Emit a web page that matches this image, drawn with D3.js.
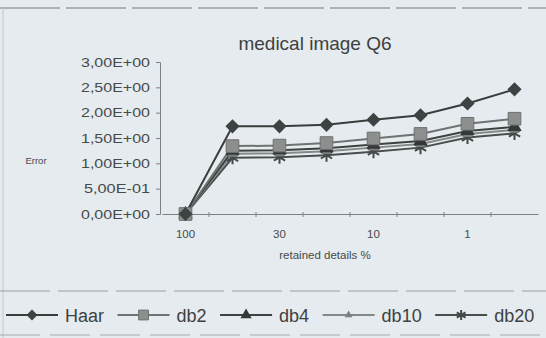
<!DOCTYPE html>
<html>
<head>
<meta charset="utf-8">
<script src="https://cdn.jsdelivr.net/npm/d3@7"></script>
<style>
  body { margin: 0; background: #e5ebee; }
  svg { display: block; font-family: "Liberation Sans", Arial, sans-serif; }
</style>
</head>
<body>
<svg id="chart" width="546" height="338"></svg>
<script>
// data
const xTickLabels = ["100", "", "30", "", "10", "", "1", ""];
const seriesNames = ["Haar", "db2", "db4", "db10", "db20"];
const haar = [0, 1.73, 1.73, 1.76, 1.86, 1.95, 2.18, 2.46];
const db2  = [0, 1.34, 1.35, 1.40, 1.49, 1.58, 1.78, 1.88];
const db4  = [0, 1.25, 1.26, 1.30, 1.37, 1.44, 1.64, 1.72];
const db10 = [0, 1.19, 1.20, 1.24, 1.31, 1.38, 1.58, 1.66];
const db20 = [0, 1.11, 1.12, 1.16, 1.23, 1.31, 1.51, 1.59];
const yTicks = [0, 0.5, 1, 1.5, 2, 2.5, 3];

const series = [
  { name: seriesNames[0], values: haar, line: "#3b3d3d", sym: "diamond",  fill: "#3f4242", size: 100 },
  { name: seriesNames[1], values: db2,  line: "#6f7272", sym: "square",   fill: "#8c8f8e", size: 160 },
  { name: seriesNames[2], values: db4,  line: "#3e4141", sym: "triangle", fill: "#353838", size: 90 },
  { name: seriesNames[3], values: db10, line: "#858888", sym: "triangle", fill: "#7d8080", size: 45 },
  { name: seriesNames[4], values: db20, line: "#4a4d4d", sym: "star",     fill: "#454848", size: 120 }
];

const svg = d3.select("#chart");
const txt = "#474a4a";

// scan frame lines
svg.append("line").attr("x1", 0).attr("x2", 546).attr("y1", 8).attr("y2", 8)
  .attr("stroke", "#9aa0a2").attr("stroke-width", 1.5).attr("stroke-dasharray", "60 6");
svg.append("line").attr("x1", 3).attr("x2", 3).attr("y1", 8).attr("y2", 338)
  .attr("stroke", "#c4cacc").attr("stroke-width", 1);

const x = d3.scaleBand().domain(d3.range(8)).range([162, 538]);
const y = d3.scaleLinear().domain([0, 3]).range([214, 62]);

function fmtE(v) {
  if (v === 0) return "0,00E+00";
  const e = Math.floor(Math.log10(v));
  const m = v / Math.pow(10, e);
  return m.toFixed(2).replace(".", ",") + "E" + (e < 0 ? "-" : "+") + String(Math.abs(e)).padStart(2, "0");
}

// title
svg.append("text").attr("x", 315).attr("y", 50).attr("text-anchor", "middle")
  .attr("font-size", 19).attr("fill", "#3e4141").text("medical image Q6");

// y axis
const yAxis = svg.append("g").attr("transform", "translate(160,0)")
  .call(d3.axisLeft(y).tickValues(yTicks).tickSize(4).tickPadding(6).tickFormat(fmtE));
yAxis.select(".domain").attr("stroke", "#7d8282");
yAxis.selectAll(".tick line").attr("stroke", "#7d8282");
yAxis.selectAll("text").attr("font-size", 13).attr("fill", txt)
  .attr("font-family", "Liberation Sans, Arial, sans-serif")
  .attr("textLength", d => d === 0.5 ? 66 : 69).attr("lengthAdjust", "spacingAndGlyphs");

svg.append("text").attr("x", 36).attr("y", 164).attr("text-anchor", "middle")
  .attr("font-size", 9.5).attr("fill", txt).text("Error");

// x axis
const xAxis = svg.append("g").attr("transform", "translate(0,214)")
  .call(d3.axisBottom(x).tickSize(0).tickPadding(16).tickFormat(i => xTickLabels[i]));
xAxis.select(".domain").attr("stroke", "#7d8282").attr("stroke-width", 1.2);
xAxis.selectAll("text").attr("font-size", 11.5).attr("fill", txt)
  .attr("font-family", "Liberation Sans, Arial, sans-serif");
// tick marks between categories
svg.append("g").selectAll("line")
  .data(d3.range(1, 8))
  .join("line")
  .attr("x1", i => x(i)).attr("x2", i => x(i))
  .attr("y1", 212).attr("y2", 217)
  .attr("stroke", "#7d8282");

svg.append("text").attr("x", 325).attr("y", 259).attr("text-anchor", "middle")
  .attr("font-size", 11.5).attr("fill", txt).text("retained details %");

function symPath(s, k) {
  const a = s.size * k;
  if (s.sym === "diamond" || s.sym === "square") return d3.symbol(d3.symbolSquare, a)();
  if (s.sym === "triangle") return d3.symbol(d3.symbolTriangle, a)();
  return d3.symbol(d3.symbolAsterisk, a)();
}
function drawMarker(g, s, cx, cy, k = 1) {
  const p = g.append("path").attr("d", symPath(s, k))
    .attr("transform", `translate(${cx},${cy})` + (s.sym === "diamond" ? " rotate(45)" : ""));
  if (s.sym === "star") {
    p.attr("fill", "none").attr("stroke", s.fill).attr("stroke-width", 2);
  } else if (s.sym === "square") {
    p.attr("fill", s.fill).attr("stroke", "#6d7070").attr("stroke-width", 1);
  } else {
    p.attr("fill", s.fill);
  }
}

const line = d3.line().x((d, i) => x(i) + x.bandwidth() / 2).y(d => y(d));

// draw lower series first so Haar ends on top
const plot = svg.append("g");
series.slice().reverse().forEach(s => {
  plot.append("path").datum(s.values).attr("d", line)
    .attr("fill", "none").attr("stroke", s.line).attr("stroke-width", 2);
});
series.slice().reverse().forEach(s => {
  const g = plot.append("g");
  s.values.forEach((v, i) => drawMarker(g, s, x(i) + x.bandwidth() / 2, y(v)));
});

// legend
svg.append("line").attr("x1", 0).attr("x2", 546).attr("y1", 291).attr("y2", 291)
  .attr("stroke", "#9aa0a2").attr("stroke-width", 1.2).attr("stroke-dasharray", "50 8");
svg.append("line").attr("x1", 0).attr("x2", 546).attr("y1", 335).attr("y2", 335)
  .attr("stroke", "#a5abad").attr("stroke-width", 1.2).attr("stroke-dasharray", "40 10");

const legend = svg.append("g");
let lx = 6;
const ly = 315;
series.forEach(s => {
  legend.append("line").attr("x1", lx).attr("x2", lx + 52).attr("y1", ly).attr("y2", ly)
    .attr("stroke", s.line).attr("stroke-width", 2);
  drawMarker(legend, s, lx + 26, ly, 0.6);
  const t = legend.append("text").attr("x", lx + 59).attr("y", ly + 6.5)
    .attr("font-size", 18).attr("fill", "#3e4141").text(s.name);
  lx += 59 + t.node().getComputedTextLength() + 13.5;
});
</script>
</body>
</html>
